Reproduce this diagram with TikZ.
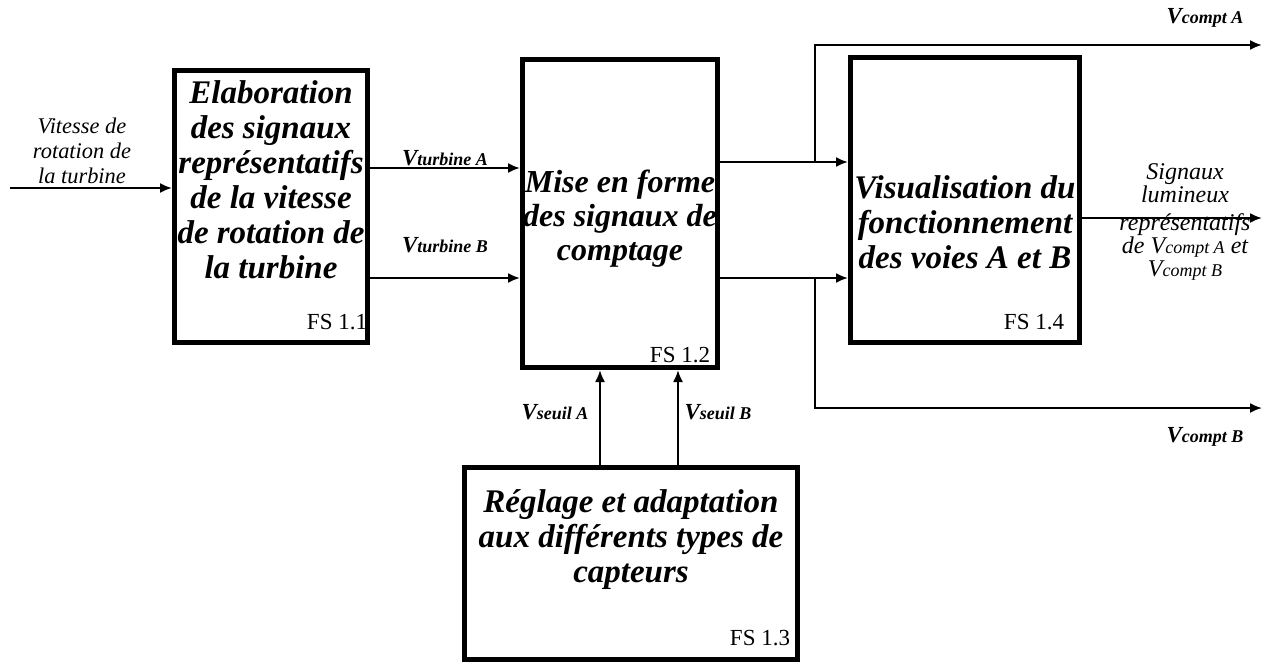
\documentclass[tikz,border=0pt]{standalone}
\usepackage{fontspec}
\setmainfont{Liberation Serif}
\usetikzlibrary{arrows.meta}
\tikzset{
 box/.style={draw, line width=2.5pt, inner sep=0pt},
 conn/.style={line width=1pt},
 arr/.style={conn, -{Latex[length=6pt,width=5pt]}},
 btxt/.style={align=center, font=\fontsize{16.5}{17.5}\selectfont\bfseries\itshape, inner sep=0pt},
 fs/.style={font=\fontsize{11.5}{13}\selectfont, inner sep=0pt},
 lbl/.style={align=center, font=\fontsize{11.2}{12.5}\selectfont\itshape, inner sep=0pt},
 vl/.style={font=\fontsize{11.5}{13}\selectfont\bfseries\itshape, inner sep=0pt},
}
\newcommand{\Vlab}[1]{V{\fontsize{9}{10}\selectfont #1}}
\newcommand{\Vsmall}[1]{V{\fontsize{9}{10}\selectfont #1}}
\begin{document}
\begin{tikzpicture}[x=0.5pt,y=-0.5pt]
\useasboundingbox (0,0) rectangle (1279,666);
% boxes
\node[box, minimum width=96.5pt, minimum height=136pt] (b11) at (271,206.5) {};
\node[box, minimum width=97.5pt, minimum height=154pt] (b12) at (620,213.5) {};
\node[box, minimum width=114.5pt, minimum height=142.5pt] (b14) at (965,200) {};
\node[box, minimum width=166.5pt, minimum height=96pt] (b13) at (631,563.5) {};
% box texts
\node[btxt] (t11) at (271,180) {Elaboration\\des signaux\\représentatifs\\de la vitesse\\de rotation de\\la turbine};
\node[btxt, font=\fontsize{16}{17}\selectfont\bfseries\itshape] (t12) at (620,219) {Mise en forme\\des signaux de\\comptage};
\node[btxt] (t14) at (965,222) {Visualisation du\\fonctionnement\\des voies A et B};
\node[btxt] (t13) at (631,540) {Réglage et adaptation\\aux différents types de\\capteurs};
\node[fs] (f11) at (337,322) {FS 1.1};
\node[fs] (f12) at (680,355) {FS 1.2};
\node[fs] (f14) at (1034,322) {FS 1.4};
\node[fs] (f13) at (760,638) {FS 1.3};
% coordinates
\coordinate (in) at (10,188);
\coordinate (yA) at (0,168);
\coordinate (yB) at (0,278);
\coordinate (jA) at (815,162);
\coordinate (jB) at (815,278);
\coordinate (oA) at (1262,45);
\coordinate (oB) at (1262,408);
\coordinate (oS) at (1262,218);
\coordinate (xA) at (600,0);
\coordinate (xB) at (678,0);
% connectors
\draw[arr] (in) -- (b11.west |- in);
\draw[arr] (b11.east |- yA) -- (b12.west |- yA);
\draw[arr] (b11.east |- yB) -- (b12.west |- yB);
\draw[arr] (b12.east |- jA) -- (b14.west |- jA);
\draw[arr] (b12.east |- jB) -- (b14.west |- jB);
\draw[arr] (jA) |- (oA);
\draw[arr] (jB) |- (oB);
\draw[arr] (b14.east |- oS) -- (oS);
\draw[arr] (b13.north -| xA) -- (b12.south -| xA);
\draw[arr] (b13.north -| xB) -- (b12.south -| xB);
% labels
\node[lbl] (lin) at (82,151) {Vitesse de\\rotation de\\la turbine};
\node[vl] (lvA) at (445,158) {\Vlab{turbine A}};
\node[vl] (lvB) at (445,245) {\Vlab{turbine B}};
\node[vl] (lsA) at (555,412) {\Vlab{seuil A}};
\node[vl] (lsB) at (718,412) {\Vlab{seuil B}};
\node[vl] (lcA) at (1205,18) {\Vlab{compt A}};
\node[vl] (lcB) at (1205,437) {\Vlab{compt B}};
\node[lbl, font=\fontsize{12}{11.6}\selectfont\itshape] (lsig) at (1185,222) {Signaux\\lumineux\\[2pt]représentatifs\\de \Vsmall{compt A} et\\\Vsmall{compt B}};
\end{tikzpicture}
\end{document}
